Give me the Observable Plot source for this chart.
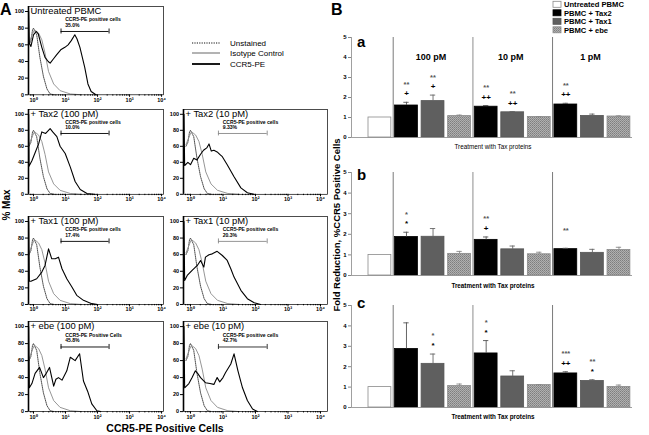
<!DOCTYPE html>
<html><head><meta charset="utf-8">
<script src="https://cdn.jsdelivr.net/npm/d3@7"></script>
<script src="https://cdn.jsdelivr.net/npm/@observablehq/plot@0.6"></script>
<style>
html,body{margin:0;padding:0;background:#fff;}
#fig{position:relative;width:649px;height:435px;overflow:hidden;background:#fff;font-family:"Liberation Sans",Arial,sans-serif;}
</style></head><body><div id="fig"></div>
<script>
// ---------------- Panel A data (x = log10 fluorescence, y = % Max) ----------------
const histUnstained = [[-0.14,60],[-0.08,65],[-0.03,78],[0.0,80],[0.05,76],[0.1,72],[0.2,45],[0.31,22],[0.42,7],[0.52,1],[0.65,0]];
const histIsotype = [[-0.14,62],[-0.08,68],[-0.02,74],[0.03,78],[0.1,76],[0.16,74],[0.26,66],[0.36,50],[0.47,28],[0.63,13],[0.83,5],[1.15,1],[1.5,0]];
const ccr5Untreated = [[-0.15,100],[-0.13,62],[-0.08,58],[0.0,72],[0.08,76],[0.15,73],[0.26,57],[0.36,45],[0.46,40],[0.52,38],[0.62,43],[0.72,48],[0.85,54],[0.98,57],[1.08,60],[1.18,65],[1.29,72],[1.36,67],[1.45,57],[1.6,33],[1.7,13],[1.8,4],[1.95,0]];
const ccr5Tax2_100 = [[-0.15,100],[-0.14,35],[-0.05,42],[0.05,52],[0.16,63],[0.26,78],[0.38,76],[0.52,82],[0.6,78],[0.73,72],[0.83,60],[0.99,51],[1.15,34],[1.3,16],[1.46,6],[1.67,1],[1.9,0]];
const ccr5Tax2_10 = [[-0.2,100],[-0.18,36],[-0.08,40],[0.0,37],[0.1,45],[0.2,43],[0.31,50],[0.4,55],[0.5,58],[0.57,63],[0.64,54],[0.72,55],[0.82,53],[0.9,50],[0.98,47],[1.13,37],[1.34,22],[1.55,8],[1.75,2],[1.95,0]];
const ccr5Tax1_100 = [[-0.15,100],[-0.13,28],[-0.08,28],[0.1,31],[0.26,39],[0.36,47],[0.47,67],[0.57,55],[0.68,55],[0.78,57],[0.89,43],[1.04,31],[1.2,21],[1.35,11],[1.56,5],[1.82,1],[2.0,0]];
const ccr5Tax1_10 = [[-0.2,100],[-0.18,29],[-0.1,35],[0.05,41],[0.21,47],[0.31,53],[0.41,45],[0.46,57],[0.57,60],[0.67,61],[0.82,64],[0.98,59],[1.13,53],[1.24,43],[1.34,33],[1.55,17],[1.75,7],[1.96,2],[2.16,0]];
const ccr5Ebe_100 = [[-0.15,100],[-0.13,28],[-0.05,33],[0.05,45],[0.19,52],[0.31,40],[0.4,45],[0.5,52],[0.63,30],[0.7,38],[0.78,40],[0.89,37],[1.04,48],[1.15,64],[1.3,60],[1.44,68],[1.56,36],[1.69,24],[1.82,9],[1.98,1],[2.1,0]];
const ccr5Ebe_10 = [[-0.2,100],[-0.18,28],[-0.05,33],[0.05,40],[0.15,48],[0.22,45],[0.31,40],[0.46,34],[0.6,33],[0.72,32],[0.82,40],[0.9,35],[1.0,40],[1.08,46],[1.24,56],[1.34,68],[1.46,48],[1.55,35],[1.6,28],[1.75,13],[1.91,3],[2.06,0]];

const histTitles = ["Untreated PBMC","+ Tax2 (100 pM)","+ Tax2 (10 pM)","+ Tax1 (100 pM)","+ Tax1 (10 pM)","+ ebe (100 pM)","+ ebe (10 pM)"];
const gateTexts = ["CCR5-PE positive cells","CCR5-PE positive cells","CCR5-PE positive cells","CCR5-PE positive cells","CCR5-PE positive cells","CCR5-PE Positive Cells","CCR5-PE positive cells"];
const gatePercents = ["35.0%","10.0%","9.33%","17.4%","20.3%","45.8%","42.7%"];
const gateBounds = [0.86, 2.36];
const decadeTicks = [0,1,2,3,4];
const yPctTicks = [0,20,40,60,80,100];
const legendA = ["Unstained","Isotype Control","CCR5-PE"];

// ---------------- Panel B data ----------------
const barTreatments = ["Untreated PBMC","PBMC + Tax2","PBMC + Tax1","PBMC + ebe"];
const barDoses = ["100 pM","10 pM","1 pM"];
const foldA = [1.0,1.6,1.82,1.07,1.54,1.26,1.03,1.65,1.08,1.05];
const errA  = [0,0.16,0.3,0.05,0.06,0.04,0.01,0.06,0.09,0.03];
const foldB = [1.0,1.87,1.88,1.05,1.73,1.27,1.03,1.28,1.1,1.24];
const errB  = [0,0.23,0.4,0.12,0.14,0.16,0.1,0.04,0.17,0.13];
const foldC = [1.0,2.87,2.14,1.05,2.65,1.52,1.1,1.67,1.3,1.01];
const errC  = [0,1.28,0.48,0.1,0.63,0.28,0.02,0.08,0.06,0.09];
const signifA = [[1,"**","+"],[2,"**","+"],[4,"**","++"],[5,"**","++"],[7,"**","++"]];
const signifB = [[1,"*","*"],[4,"**","+"],[7,"**",""]];
const signifC = [[2,"*","*"],[4,"*","*"],[7,"***","++"],[8,"**","*"]];
const yFoldTicks = [0,1,2,3,4,5];

// ---------------- drawing ----------------
const FONT = '"Liberation Sans", Arial, sans-serif';
const fig = document.getElementById("fig");
function place(node, x, y){ node.style.position="absolute"; node.style.left=x+"px"; node.style.top=y+"px"; fig.appendChild(node); }
const SUP = {0:"\u2070",1:"\u00B9",2:"\u00B2",3:"\u00B3",4:"\u2074"};

function minorTicks(domain){
  const out=[];
  for(let d=-1; d<5; d++) for(let k=2;k<10;k++){ const v=d+Math.log10(k); if(v>domain[0]+0.01 && v<domain[1]) out.push(v); }
  return out;
}

function hist(cfg){
  const {left, axisX, right, y100, y0, domain, curve, gateColor, idx} = cfg;
  const span = y0 - y100, ymax = 106, plotH = span*ymax/100;
  const mt = 1, mb = 10, ml = axisX-left, mr = 3;
  const width = right-left+mr;
  const P = d=>d[0], Q = d=>d[1];
  const svg = Plot.plot({
    width, height: plotH+mt+mb, marginLeft: ml, marginRight: mr, marginTop: mt, marginBottom: mb,
    x: {domain}, y: {domain:[0, ymax]},
    style: {fontFamily: FONT, fontSize: "5.5px", fontWeight: "bold", background: "transparent", overflow: "visible"},
    marks: [
      Plot.line(histUnstained, {x:P, y:Q, stroke:"#222", strokeWidth:0.8, strokeDasharray:"1,1"}),
      Plot.line(histIsotype, {x:P, y:Q, stroke:"#8a8a8a", strokeWidth:0.9}),
      Plot.line(curve, {x:P, y:Q, stroke:"#000", strokeWidth:1.1}),
      Plot.frame({stroke:"#000", strokeWidth:0.7}),
      Plot.ruleX([domain[0]], {stroke:"#000", strokeWidth:1.6}),
      Plot.axisY({ticks: yPctTicks, tickSize:3, tickPadding:1.5, label:null, fontSize:5.5, fontWeight:"bold"}),
      Plot.axisX({ticks: decadeTicks, tickSize:2.5, tickPadding:0.5, tickFormat: d=>"10"+SUP[d], label:null, fontSize:5.5, fontWeight:"bold"}),
      Plot.axisX({ticks: minorTicks(domain), tickSize:1.3, tickFormat: ()=>"", label:null}),
      Plot.ruleY([76], {x1: ()=>gateBounds[0], x2: ()=>gateBounds[1], stroke: gateColor, strokeWidth:0.9}),
      Plot.ruleX(gateBounds, {y1: 73, y2: 79, stroke: gateColor, strokeWidth:0.9}),
      Plot.text([gateTexts[idx]], {x: ()=>gateBounds[0]+0.13, y: ()=>90, text: d=>d, textAnchor:"start", fontSize:5.1, fontWeight:"bold"}),
      Plot.text([gatePercents[idx]], {x: ()=>gateBounds[0]+0.13, y: ()=>83.3, text: d=>d, textAnchor:"start", fontSize:5.1, fontWeight:"bold"})
    ]
  });
  place(svg, left, y0-plotH-mt);
}

const rowsY = [[10.7,94],[114,194],[221,304],[326,411]];
const colL = {left:0, axisX:28, right:163, domain:[-0.156,4.06]};
const colR = {left:155, axisX:183, right:327, domain:[-0.215,4.215]};
const curves = [ccr5Untreated, ccr5Tax2_100, ccr5Tax2_10, ccr5Tax1_100, ccr5Tax1_10, ccr5Ebe_100, ccr5Ebe_10];
const layout = [[colL,0],[colL,1],[colR,1],[colL,2],[colR,2],[colL,3],[colR,3]];
const gateColors = ["#000","#000","#8a8a8a","#000","#8a8a8a","#000","#222"];
layout.forEach(([col,row],i)=>{
  hist({...col, y100: rowsY[row][0], y0: rowsY[row][1], curve: curves[i], gateColor: gateColors[i], idx:i});
});

// ---- bar panels ----
const SLOTS = [{t:0, g:-1}].concat(barDoses.flatMap((d,gi)=>[1,2,3].map(t=>({t, g:gi}))));
const xDom = [-1.07, 9.51];
const groupFirst = barDoses.map((d,gi)=>SLOTS.findIndex(s=>s.g===gi));
const seps = groupFirst.map((f,k)=>({x:f-0.5, c: k===1?"#b8b8b8":"#7a7a7a", w: k===1?1.6:1}));
const barFill = ["#ffffff","#000000","#5f5f5f","url(#ebePat)"];
const barStroke = ["#8a8a8a","#000000","#555555","#8a8a8a"];
const errColor = ["#888","#555","#666","#888"];

function bars(cfg){
  const {y5, y0, vals, errs, signif, showDoses} = cfg;
  const left=330, axisX=351, right=632, mt=2, mb=2;
  const rows = SLOTS.map((s,i)=>({i, t:s.t, v:vals[i], e:errs[i]}));
  const withErr = rows.filter(r=>r.e>0);
  const ann = signif.map(([i,up,lo])=>({i, top: rows[i].v+rows[i].e, up, lo}));
  const marks = [
    Plot.ruleX(seps, {x:"x", y1:0, y2:5, stroke:"c", strokeWidth:"w"}),
    ...barTreatments.map((name,t)=>Plot.rect(rows.filter(r=>r.t===t), {x1:r=>r.i-0.43, x2:r=>r.i+0.43, y1:0, y2:"v", fill: barFill[t], stroke: barStroke[t], strokeWidth:0.8})),
    Plot.ruleX(withErr, {x:"i", y1:"v", y2:r=>r.v+r.e, stroke:r=>errColor[r.t], strokeWidth:0.9}),
    Plot.ruleY(withErr, {y:r=>r.v+r.e, x1:r=>r.i-0.1, x2:r=>r.i+0.1, stroke:r=>errColor[r.t], strokeWidth:0.9}),
    Plot.ruleX([xDom[0]], {stroke:"#888", strokeWidth:0.8}),
    Plot.ruleY([0], {stroke:"#888", strokeWidth:0.8}),
    Plot.axisY({ticks: yFoldTicks, tickSize:3, tickPadding:2, tickFormat: d=>String(d), label:null, stroke:"#888", fontSize:6, fontWeight:"bold"}),
    Plot.text(ann, {x:"i", y:"top", text:"up", dy:-18, fontSize:7.5, fontWeight:"bold", fill:"#555"}),
    Plot.text(ann, {x:"i", y:"top", text:"lo", dy:-8.5, fontSize:8, fontWeight:"bold", fill:"#000"})
  ];
  if(showDoses) marks.push(Plot.text(barDoses.map((d,gi)=>({d, x: groupFirst[gi]+1})), {x:"x", y:()=>4, text:"d", fontSize:9, fontWeight:"bold", dx:-2}));
  const svg = Plot.plot({
    width: 649-left, height: (y0-y5)+mt+mb, marginLeft: axisX-left, marginRight: 649-right, marginTop: mt, marginBottom: mb,
    x: {domain: xDom, axis:null}, y: {domain:[0,5], axis:null},
    style: {fontFamily: FONT, fontSize:"6px", background:"transparent", overflow:"visible"},
    marks
  });
  place(svg, left, y5-mt);
}
bars({y5:37, y0:137, vals:foldA, errs:errA, signif:signifA, showDoses:true});
bars({y5:172, y0:275, vals:foldB, errs:errB, signif:signifB, showDoses:false});
bars({y5:305, y0:407, vals:foldC, errs:errC, signif:signifC, showDoses:false});

// ---- overlay text / legends ----
const ov = d3.create("svg").attr("width",649).attr("height",435)
  .style("position","absolute").style("left","0px").style("top","0px").style("pointer-events","none")
  .style("font-family", FONT);
const pat = ov.append("defs").append("pattern").attr("id","ebePat").attr("patternUnits","userSpaceOnUse").attr("width",2).attr("height",2);
pat.append("rect").attr("width",2).attr("height",2).attr("fill","#b0b0b0");
pat.append("rect").attr("width",1).attr("height",1).attr("fill","#7e7e7e");
pat.append("rect").attr("x",1).attr("y",1).attr("width",1).attr("height",1).attr("fill","#8e8e8e");

function T(str,x,y,size,weight,anchor,rot){
  const t = ov.append("text").attr("x",x).attr("y",y).attr("font-size",size).attr("font-weight",weight||"normal")
    .attr("text-anchor",anchor||"start").attr("fill","#000").text(str);
  if(rot) t.attr("transform",`rotate(-90 ${x} ${y})`);
  return t;
}
T("A",0,15,16,"bold");
T("B",331,15,16,"bold");
layout.forEach(([col,row],i)=>T(histTitles[i], col.axisX+2.5, rowsY[row][0]+3.4, 9.4));
T("% Max",9.5,205,10,"bold","middle",true);
T("CCR5-PE Positive Cells",165,432,10.5,"bold","middle");
const legYA=[43,53,64], dashA=["1.2,1.2",null,null], colA=["#111","#8a8a8a","#000"], wA=[1.1,1.3,1.8];
legendA.forEach((s,i)=>{
  const l=ov.append("line").attr("x1",192).attr("x2",220).attr("y1",legYA[i]).attr("y2",legYA[i]).attr("stroke",colA[i]).attr("stroke-width",wA[i]);
  if(dashA[i]) l.attr("stroke-dasharray",dashA[i]);
  T(s,230,legYA[i]+2.9,8);
});
T("Fold Reduction, %CCR5 Positive Cells",339.5,225,9.5,"bold","middle",true);
T("Treatment with Tax proteins",493,149,6.3,"normal","middle");
T("Treatment with Tax proteins",493,288,6.3,"bold","middle");
T("Treatment with Tax proteins",493,419,6.3,"bold","middle");
T("a",357,47,15,"bold"); T("b",357,180,15,"bold"); T("c",357,308,15,"bold");
const legYB=[4.3,12.8,21.3,29.8];
barTreatments.forEach((s,i)=>{
  ov.append("rect").attr("x",553).attr("y",legYB[i]-3).attr("width",8).attr("height",6)
    .attr("fill",barFill[i]).attr("stroke",barStroke[i]).attr("stroke-width",0.8);
  T(s,564,legYB[i]+2.7,7.6,"bold");
});
fig.appendChild(ov.node());
</script></body></html>
